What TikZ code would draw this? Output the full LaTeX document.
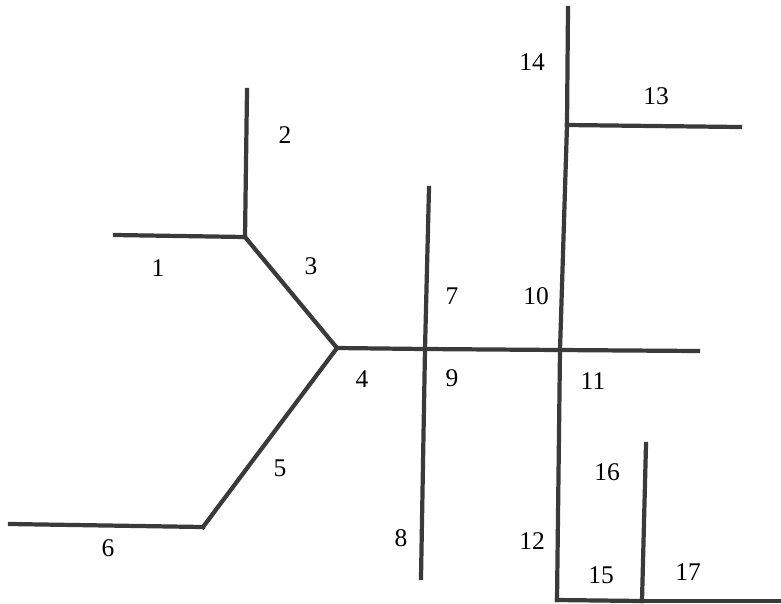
\documentclass[tikz,border=0pt]{standalone}
\usepackage{fontspec}
\setmainfont{Liberation Serif}
\definecolor{netlinie}{HTML}{3A3A3A}
\tikzset{
  netast/.style={draw=netlinie, line width=2.4pt, line cap=rect},
  netnummer/.style={font=\fontsize{14.5}{16}\selectfont, text=black, inner sep=0pt},
}
\begin{document}
\begin{tikzpicture}[x=0.02cm,y=-0.02cm]
        \useasboundingbox (0,0) rectangle (781,603);
        % Knoten des Netzes
        \coordinate (k1) at (245,237);
        \coordinate (k2) at (337,348);
        \coordinate (k3) at (425,349);
        \coordinate (k4) at (560,350);
        \coordinate (k5) at (203,527);
        \coordinate (k6) at (567,125);
        \coordinate (k7) at (557,600);
        \coordinate (k8) at (642,601);
        % Enden
        \coordinate (e1) at (115,235);
        \coordinate (e2) at (247,90);
        \coordinate (e6) at (10,524);
        \coordinate (e7) at (429,188);
        \coordinate (e8) at (421,578);
        \coordinate (e11) at (698,351);
        \coordinate (e13) at (740,127);
        \coordinate (e14) at (568,8);
        \coordinate (e16) at (646,444);
        \coordinate (e17) at (781,601);
        % Aeste
        \draw[netast] (e1) -- (k1);
        \draw[netast] (e2) -- (k1);
        \draw[netast] (k1) -- (k2);
        \draw[netast] (k2) -- (k3);
        \draw[netast] (k2) -- (k5);
        \draw[netast] (e6) -- (k5);
        \draw[netast] (e7) -- (k3);
        \draw[netast] (k3) -- (e8);
        \draw[netast] (k3) -- (k4);
        \draw[netast] (k4) -- (e11);
        \draw[netast] (e14) -- (k6);
        \draw[netast] (k6) -- (k4);
        \draw[netast] (k6) -- (e13);
        \draw[netast] (k4) -- (k7);
        \draw[netast] (k7) -- (k8);
        \draw[netast] (e16) -- (k8);
        \draw[netast] (k8) -- (e17);
        % Nummern
        \node[netnummer] (n1) at (158,268) {1};
        \node[netnummer] (n2) at (285,135) {2};
        \node[netnummer] (n3) at (311,266) {3};
        \node[netnummer] (n4) at (362,379) {4};
        \node[netnummer] (n5) at (280,468) {5};
        \node[netnummer] (n6) at (108,548) {6};
        \node[netnummer] (n7) at (452,296) {7};
        \node[netnummer] (n8) at (401,538) {8};
        \node[netnummer] (n9) at (452,378) {9};
        \node[netnummer] (n10) at (536,296) {10};
        \node[netnummer] (n11) at (593,381) {11};
        \node[netnummer] (n12) at (532,541) {12};
        \node[netnummer] (n13) at (656,96) {13};
        \node[netnummer] (n14) at (532,62) {14};
        \node[netnummer] (n15) at (601,575) {15};
        \node[netnummer] (n16) at (607,472) {16};
        \node[netnummer] (n17) at (688,572) {17};
\end{tikzpicture}
\end{document}
